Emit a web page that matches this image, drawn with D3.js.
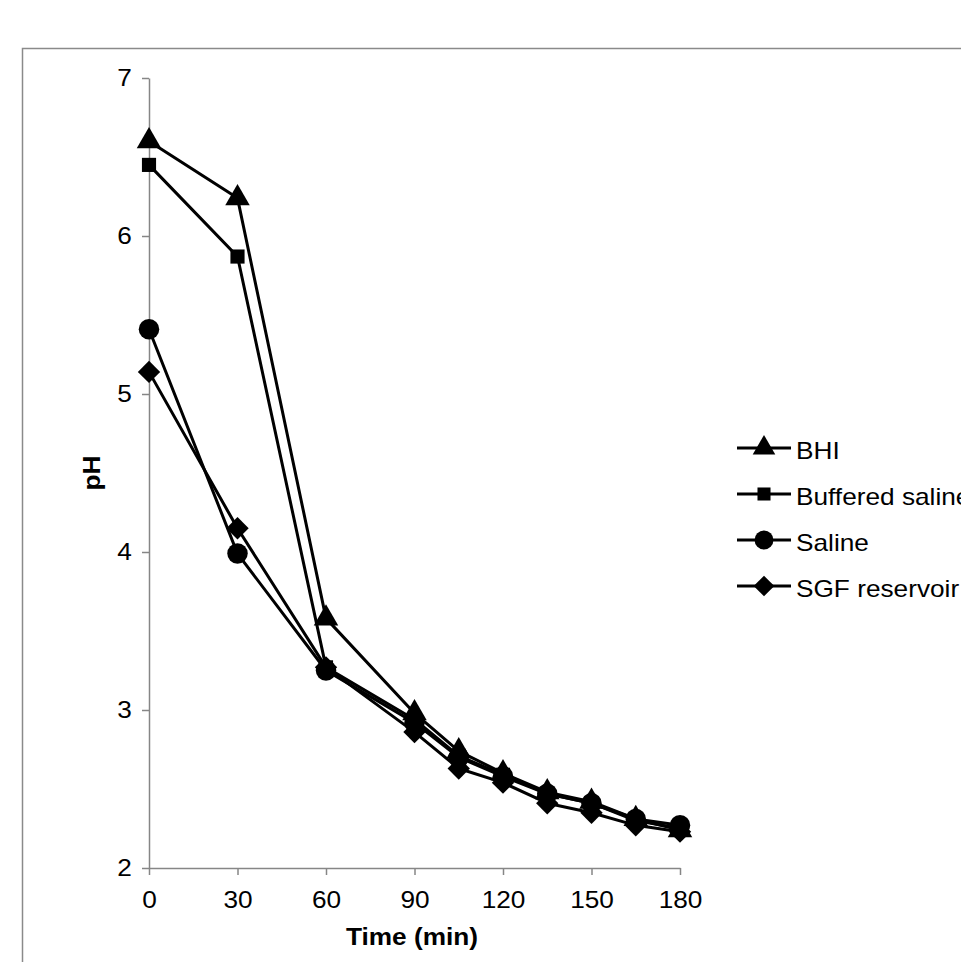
<!DOCTYPE html>
<html>
<head>
<meta charset="utf-8">
<script src="https://cdn.jsdelivr.net/npm/d3@7"></script>
<style>
  body { margin: 0; background: #fff; }
  svg { display: block; font-family: "Liberation Sans", Arial, sans-serif; }
  .axis path, .axis line { stroke: #868686; stroke-width: 1.5px; }
  .axis text { font-size: 23px; fill: #000; }
</style>
</head>
<body>
<div id="chart"></div>
<script>
// pH over time
const times = [0, 30, 60, 90, 105, 120, 135, 150, 165, 180];
const bhi = [6.60, 6.24, 3.58, 2.98, 2.74, 2.60, 2.48, 2.42, 2.31, 2.24];
const bufferedSaline = [6.45, 5.87, 3.27, 2.94, 2.71, 2.59, 2.47, 2.41, 2.30, 2.25];
const saline = [5.41, 3.99, 3.25, 2.92, 2.70, 2.58, 2.47, 2.41, 2.31, 2.27];
const sgfReservoir = [5.14, 4.15, 3.27, 2.86, 2.63, 2.54, 2.41, 2.35, 2.27, 2.23];
const seriesNames = ['BHI', 'Buffered saline', 'Saline', 'SGF reservoir'];
const xTicks = [0, 30, 60, 90, 120, 150, 180];
const yTicks = [2, 3, 4, 5, 6, 7];

// the original text is slightly wider than normal Arial
const stretch = 'scale(1.14,1)';

const series = [
    {name: seriesNames[0], values: bhi, symbol: d3.symbolTriangle, size: 260, rot: 0},
    {name: seriesNames[1], values: bufferedSaline, symbol: d3.symbolSquare, size: 200, rot: 0},
    {name: seriesNames[2], values: saline, symbol: d3.symbolCircle, size: 330, rot: 0},
    {name: seriesNames[3], values: sgfReservoir, symbol: d3.symbolSquare, size: 250, rot: 45}
];

const W = 961, H = 962;
const svg = d3.select('#chart').append('svg')
    .attr('width', W)
    .attr('height', H);

// chart area frame (cut off at right and bottom like the original)
svg.append('rect')
    .attr('x', 22.5).attr('y', 48.5)
    .attr('width', 1000).attr('height', 1000)
    .attr('fill', 'none')
    .attr('stroke', '#8a8a8a')
    .attr('stroke-width', 1.5);

const x = d3.scaleLinear().domain([0, 180]).range([149, 680]);
const y = d3.scaleLinear().domain([2, 7]).range([868, 78]);

// axes
const xAxis = svg.append('g')
    .attr('class', 'axis')
    .attr('transform', 'translate(0,868)')
    .call(d3.axisBottom(x).tickValues(xTicks).tickFormat(d3.format('d'))
        .tickSize(7).tickSizeOuter(0).tickPadding(17));
xAxis.selectAll('text').attr('transform', stretch);

const yAxis = svg.append('g')
    .attr('class', 'axis')
    .attr('transform', 'translate(149,0)')
    .call(d3.axisLeft(y).tickValues(yTicks).tickFormat(d3.format('d'))
        .tickSize(7).tickSizeOuter(0).tickPadding(8));
yAxis.selectAll('text').attr('transform', stretch);

// axis titles
svg.append('text')
    .attr('transform', `translate(412,945) ${stretch}`)
    .attr('text-anchor', 'middle')
    .style('font-size', '23px')
    .style('font-weight', 'bold')
    .text('Time (min)');

svg.append('text')
    .attr('transform', `translate(100,473) rotate(-90) ${stretch}`)
    .attr('text-anchor', 'middle')
    .style('font-size', '23px')
    .style('font-weight', 'bold')
    .text('pH');

// lines and markers
const line = d3.line()
    .x((d, i) => x(times[i]))
    .y(d => y(d));

series.forEach(s => {
    svg.append('path')
        .datum(s.values)
        .attr('d', line)
        .attr('fill', 'none')
        .attr('stroke', '#000')
        .attr('stroke-width', 3)
        .attr('stroke-linejoin', 'round');
});

series.forEach(s => {
    const sym = d3.symbol().type(s.symbol).size(s.size);
    svg.selectAll(null)
        .data(s.values)
        .enter().append('path')
        .attr('d', sym)
        .attr('transform', (d, i) => `translate(${x(times[i])},${y(d)}) rotate(${s.rot})`)
        .attr('fill', '#000');
});

// legend (runs off the right edge, as in the original)
const legend = svg.append('g').attr('transform', 'translate(737,448)');
series.forEach((s, i) => {
    const row = legend.append('g').attr('transform', `translate(0,${i * 46})`);
    row.append('line')
        .attr('x1', 0).attr('x2', 54)
        .attr('stroke', '#000')
        .attr('stroke-width', 3);
    row.append('path')
        .attr('d', d3.symbol().type(s.symbol).size(s.size * 0.85))
        .attr('transform', `translate(27,0) rotate(${s.rot})`)
        .attr('fill', '#000');
    row.append('text')
        .attr('transform', `translate(59,11) ${stretch}`)
        .style('font-size', '23px')
        .text(s.name);
});
</script>
</body>
</html>
